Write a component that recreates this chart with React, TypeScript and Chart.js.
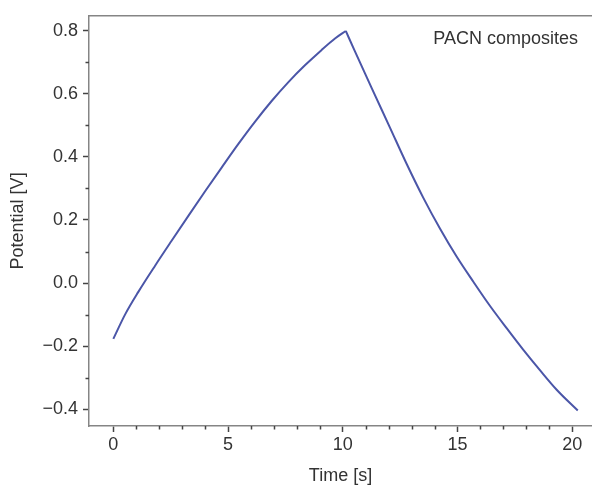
import React, { useEffect, useRef } from 'react';
import { Chart, registerables } from 'chart.js';

Chart.register(...registerables);

// Charging branch (time in s, potential in V)
const chargeTime = [0, 0.51, 1.09, 1.82, 2.54, 3.27, 4.0, 4.72, 5.45, 6.17, 6.9, 7.63, 8.35, 9.08, 9.66, 10.13];
const chargePotential = [-0.177, -0.1, -0.028, 0.055, 0.134, 0.213, 0.291, 0.366, 0.441, 0.511, 0.577, 0.637, 0.69, 0.739, 0.775, 0.799];
// Discharging branch
const dischargeTime = [10.13, 10.5, 11.26, 12.06, 12.78, 13.51, 14.24, 14.96, 15.69, 16.41, 17.14, 17.86, 18.59, 19.32, 20.24];
const dischargePotential = [0.799, 0.739, 0.618, 0.492, 0.378, 0.27, 0.172, 0.084, 0.004, -0.072, -0.143, -0.211, -0.276, -0.338, -0.404];

const xTickValues = [0, 5, 10, 15, 20];
const xMinorTickValues = [1, 2, 3, 4, 6, 7, 8, 9, 11, 12, 13, 14, 16, 17, 18, 19];
const yTickValues = [-0.4, -0.2, 0, 0.2, 0.4, 0.6, 0.8];
const yTickLabels = ['\u22120.4', '\u22120.2', '0.0', '0.2', '0.4', '0.6', '0.8'];
const yMinorTickValues = [-0.3, -0.1, 0.1, 0.3, 0.5, 0.7];
const xRange = [-1.06, 20.86];
const yRange = [-0.453, 0.847];

const seriesLabel = 'PACN composites';
const xTitle = 'Time [s]';
const yTitle = 'Potential [V]';

const FONT = '"Liberation Sans", Arial, Helvetica, sans-serif';
const FONT_SIZE = 18;
const TEXT = '#333333';
const AXIS = '#858585';
const TICK = '#444444';
const LINE = '#4b56a8';

const framePlugin = {
  id: 'framePlugin',
  afterDraw(chart: any) {
    const { ctx, chartArea, scales } = chart;
    ctx.save();
    ctx.strokeStyle = AXIS;
    ctx.lineWidth = 1.5;
    ctx.beginPath();
    ctx.moveTo(chartArea.left, chartArea.top);
    ctx.lineTo(chartArea.right, chartArea.top);
    ctx.stroke();

    ctx.strokeStyle = TICK;
    ctx.lineWidth = 1.5;
    ctx.beginPath();
    xMinorTickValues.forEach((v) => {
      const px = Math.round(scales.x.getPixelForValue(v)) + 0.5;
      ctx.moveTo(px, chartArea.bottom);
      ctx.lineTo(px, chartArea.bottom + 3.5);
    });
    yMinorTickValues.forEach((v) => {
      const py = Math.round(scales.y.getPixelForValue(v)) + 0.5;
      ctx.moveTo(chartArea.left, py);
      ctx.lineTo(chartArea.left - 3.5, py);
    });
    ctx.stroke();

    ctx.fillStyle = TEXT;
    ctx.font = `${FONT_SIZE}px ${FONT}`;
    ctx.textAlign = 'right';
    ctx.textBaseline = 'middle';
    ctx.fillText(seriesLabel, chartArea.right - 14, chartArea.top + 23);
    ctx.restore();
  },
};

export default function App() {
  const canvasRef = useRef<HTMLCanvasElement | null>(null);

  useEffect(() => {
    if (!canvasRef.current) return;
    const chargePoints = chargeTime.map((t, i) => ({ x: t, y: chargePotential[i] }));
    const dischargePoints = dischargeTime.map((t, i) => ({ x: t, y: dischargePotential[i] }));
    const lineStyle = {
      borderColor: LINE,
      borderWidth: 2,
      pointRadius: 0,
      cubicInterpolationMode: 'monotone' as const,
      fill: false,
    };
    const chart = new Chart(canvasRef.current, {
      type: 'line',
      data: {
        datasets: [
          { label: seriesLabel, data: chargePoints, ...lineStyle },
          { label: seriesLabel, data: dischargePoints, ...lineStyle },
        ],
      },
      options: {
        animation: false,
        responsive: false,
        layout: { padding: { top: 14, left: 0, right: 0, bottom: 0 } },
        plugins: {
          legend: { display: false },
          tooltip: { enabled: false },
        },
        scales: {
          x: {
            type: 'linear',
            min: xRange[0],
            max: xRange[1],
            afterBuildTicks: (scale: any) => {
              scale.ticks = xTickValues.map((v) => ({ value: v }));
            },
            afterFit: (scale: any) => {
              scale.height = 60;
            },
            ticks: {
              color: TEXT,
              font: { family: FONT, size: FONT_SIZE },
              padding: 2,
              maxRotation: 0,
              autoSkip: false,
              callback: (v: any) => String(v),
            },
            grid: {
              display: true,
              drawOnChartArea: false,
              drawTicks: true,
              tickLength: 6,
              tickColor: TICK,
              tickWidth: 1.5,
            },
            border: { display: true, color: AXIS, width: 1.5 },
            title: {
              display: true,
              text: xTitle,
              color: TEXT,
              font: { family: FONT, size: FONT_SIZE, lineHeight: 1.2 },
              padding: { top: 0, bottom: -1 },
            },
          },
          y: {
            type: 'linear',
            min: yRange[0],
            max: yRange[1],
            afterBuildTicks: (scale: any) => {
              scale.ticks = yTickValues.map((v) => ({ value: v }));
            },
            afterFit: (scale: any) => {
              scale.width = 89;
            },
            ticks: {
              color: TEXT,
              font: { family: FONT, size: FONT_SIZE },
              padding: 5,
              autoSkip: false,
              callback: (_v: any, i: number) => yTickLabels[i],
            },
            grid: {
              display: true,
              drawOnChartArea: false,
              drawTicks: true,
              tickLength: 6,
              tickColor: TICK,
              tickWidth: 1.5,
            },
            border: { display: true, color: AXIS, width: 1.5 },
            title: {
              display: true,
              text: yTitle,
              color: TEXT,
              font: { family: FONT, size: FONT_SIZE, lineHeight: 1.2 },
              padding: { top: 7, bottom: 0 },
            },
          },
        },
      },
      plugins: [framePlugin],
    });
    return () => chart.destroy();
  }, []);

  return (
    <div style={{ position: 'fixed', left: 0, top: 0, width: 592, height: 486, background: '#fff' }}>
      <canvas ref={canvasRef} width={592} height={486} style={{ display: 'block' }} />
    </div>
  );
}
